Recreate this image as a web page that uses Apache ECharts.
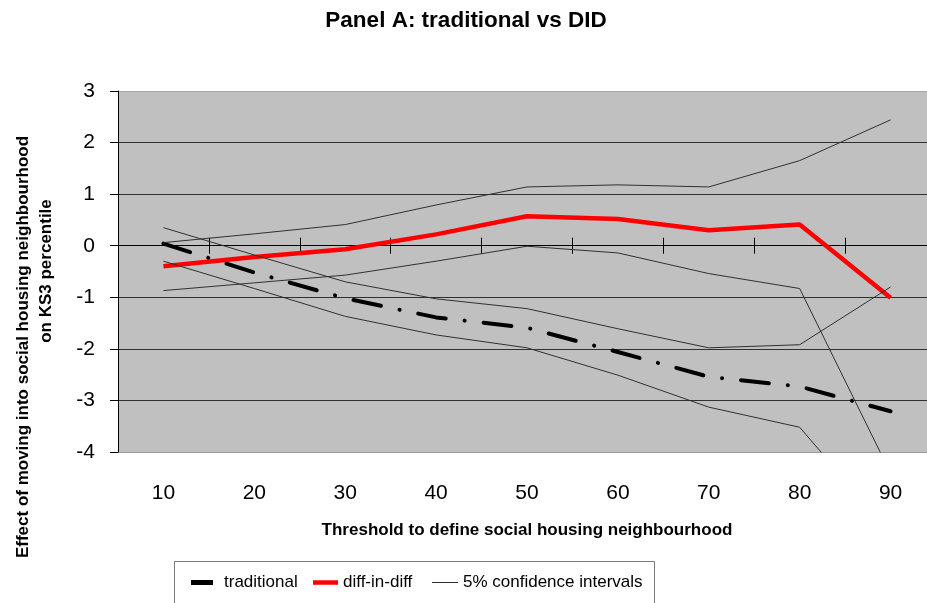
<!DOCTYPE html>
<html>
<head>
<meta charset="utf-8">
<script src="https://cdn.jsdelivr.net/npm/echarts@6/dist/echarts.min.js"></script>
<style>
  html, body { margin: 0; padding: 0; background: #fff; }
  #chart { width: 927px; height: 603px; }
</style>
</head>
<body>
<div id="chart"></div>
<script>
// Threshold (%) used to define a social housing neighbourhood
const thresholds = ['10', '20', '30', '40', '50', '60', '70', '80', '90'];

// Point estimates
const traditional = [0.04, -0.52, -1.02, -1.39, -1.59, -2.06, -2.54, -2.73, -3.21];
const diffInDiff  = [-0.40, -0.22, -0.07, 0.22, 0.57, 0.52, 0.30, 0.41, -1.01];

// 5% confidence bands
const traditionalUpper = [0.35, -0.18, -0.70, -1.03, -1.22, -1.61, -1.98, -1.92, -0.80];
const traditionalLower = [-0.30, -0.83, -1.37, -1.73, -1.98, -2.51, -3.13, -3.52, -5.57];
const didUpper = [0.06, 0.23, 0.41, 0.79, 1.14, 1.18, 1.14, 1.65, 2.44];
const didLower = [-0.87, -0.72, -0.57, -0.30, -0.01, -0.14, -0.54, -0.83, -4.41];

const FONT = '"Liberation Sans", Arial, sans-serif';
const CI_NAME = '5% confidence intervals';

const chart = echarts.init(document.getElementById('chart'), null, { renderer: 'canvas' });

function ciSeries(values) {
  return {
    name: CI_NAME,
    type: 'line',
    data: values,
    symbol: 'none',
    color: '#303030',
    lineStyle: { color: '#303030', width: 1 },
    z: 4
  };
}

// Two copies of the category axis sit on y = 0: one with ticks pointing down,
// one with ticks pointing up, giving crossing tick marks at the boundaries.
const tickAxisBase = {
  type: 'category',
  data: thresholds,
  position: 'bottom',
  boundaryGap: true,
  axisLine: { show: true, onZero: true, onZeroAxisIndex: 0, lineStyle: { color: '#000', width: 1 } },
  axisLabel: { show: false },
  splitLine: { show: false }
};

const legendText = { fontSize: 17, color: '#000', fontFamily: FONT };

const option = {
  animation: false,
  backgroundColor: '#fff',
  textStyle: { fontFamily: FONT },
  grid: {
    left: 118, top: 91, width: 818, bottom: 151,
    show: true, backgroundColor: '#c0c0c0', borderWidth: 0,
    containLabel: false,
    outerBoundsMode: 'none'
  },
  xAxis: [
    Object.assign({}, tickAxisBase, {
      axisTick: { show: true, inside: false, length: 8, lineStyle: { color: '#000' } }
    }),
    Object.assign({}, tickAxisBase, {
      axisTick: { show: true, inside: true, length: 8, lineStyle: { color: '#000' } }
    }),
    {
      type: 'category',
      data: thresholds,
      position: 'bottom',
      boundaryGap: true,
      axisLine: { show: false, onZero: false },
      axisTick: { show: false },
      axisLabel: { show: true, margin: 31, fontSize: 21, color: '#000', fontFamily: FONT },
      splitLine: { show: false },
      name: 'Threshold to define social housing neighbourhood',
      nameLocation: 'middle',
      nameGap: 70,
      nameTextStyle: { fontSize: 17, fontWeight: 'bold', color: '#000', fontFamily: FONT }
    }
  ],
  yAxis: {
    type: 'value',
    min: -4, max: 3, interval: 1,
    axisLine: { show: true, lineStyle: { color: '#000', width: 1 } },
    axisTick: { show: true, inside: false, length: 8, lineStyle: { color: '#000' } },
    axisLabel: { margin: 23, fontSize: 21, color: '#000', fontFamily: FONT },
    splitLine: {
      show: true,
      lineStyle: {
        color: ['#9a9a9a', '#303030', '#303030', '#303030', '#303030', '#303030', '#303030', '#a8a8a8'],
        width: 1
      }
    }
  },
  legend: [
    {
      data: ['traditional'], left: 191, top: 574, padding: 0,
      icon: 'rect', itemWidth: 22, itemHeight: 5,
      textStyle: Object.assign({ padding: [0, 0, 0, 6] }, legendText)
    },
    {
      data: ['diff-in-diff'], left: 313, top: 574, padding: 0,
      icon: 'rect', itemWidth: 25, itemHeight: 4.5,
      textStyle: legendText
    },
    {
      data: [CI_NAME], left: 432, top: 574, padding: 0,
      icon: 'rect', itemWidth: 26, itemHeight: 1,
      textStyle: legendText
    }
  ],
  graphic: [
    {
      type: 'rect', z: -1,
      shape: { x: 174.5, y: 561.5, width: 480, height: 60 },
      style: { fill: '#fff', stroke: '#7a7a7a', lineWidth: 1 }
    },
    {
      type: 'text', x: 466, y: 21,
      style: { text: 'Panel A: traditional vs DID', font: 'bold 22.5px ' + FONT, fill: '#000',
               textAlign: 'center', textVerticalAlign: 'middle' }
    },
    {
      type: 'text', x: 23, y: 347, rotation: Math.PI / 2,
      style: { text: 'Effect of moving into social housing neighbourhood', font: 'bold 17px ' + FONT,
               fill: '#000', textAlign: 'center', textVerticalAlign: 'middle' }
    },
    {
      type: 'text', x: 46, y: 271, rotation: Math.PI / 2,
      style: { text: 'on KS3 percentile', font: 'bold 17px ' + FONT,
               fill: '#000', textAlign: 'center', textVerticalAlign: 'middle' }
    }
  ],
  series: [
    {
      name: 'traditional',
      type: 'line',
      data: traditional,
      symbol: 'none',
      color: '#000',
      lineStyle: { color: '#000', width: 4, type: [28, 19, 0.1, 19], cap: 'round' },
      z: 3
    },
    {
      name: 'diff-in-diff',
      type: 'line',
      data: diffInDiff,
      symbol: 'none',
      color: '#ff0000',
      lineStyle: { color: '#ff0000', width: 4.5 },
      z: 3
    },
    ciSeries(traditionalUpper),
    ciSeries(traditionalLower),
    ciSeries(didUpper),
    ciSeries(didLower)
  ]
};

chart.setOption(option);
</script>
</body>
</html>
